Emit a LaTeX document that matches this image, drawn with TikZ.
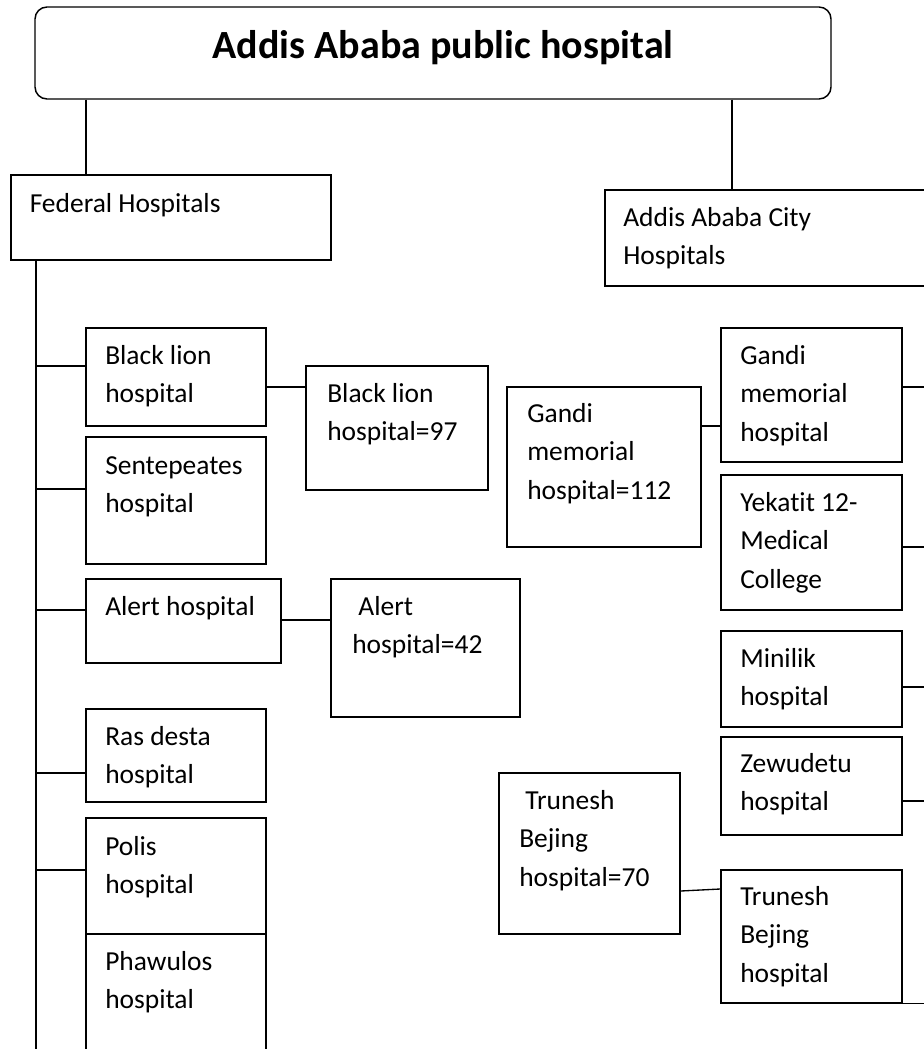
\documentclass[tikz,border=0pt]{standalone}
\usepackage{fontspec}
\setmainfont{Carlito}[Ligatures=NoCommon]
\usetikzlibrary{fit}
\begin{document}
\begin{tikzpicture}[x=0.75pt,y=-0.75pt,
  box/.style={draw, line width=1.1pt, inner sep=0pt},
  ln/.style={line width=1pt},
  txt/.style={anchor=north west, inner sep=0pt, align=left, font=\fontsize{20.6}{28.9}\selectfont},
  ttl/.style={inner sep=0pt, font=\bfseries\fontsize{30}{36}\selectfont}]
\clip (0,0) rectangle (924,1049);
% boxes
\node[box, rounded corners=9pt, fit={(35,7) (831,99)}] (title) {};
\node[box, fit={(11,175) (331,260)}] (fed) {};
\node[box, fit={(605,190) (945,286)}] (city) {};
\node[box, fit={(86,328) (266,426)}] (bl) {};
\node[box, fit={(306,366) (488,490)}] (bl97) {};
\node[box, fit={(86,437) (266,564)}] (sen) {};
\node[box, fit={(86,579) (281,663)}] (al) {};
\node[box, fit={(331,579) (520,717)}] (al42) {};
\node[box, fit={(507,387) (701,547)}] (g112) {};
\node[box, fit={(721,328) (902,462)}] (gh) {};
\node[box, fit={(721,475) (902,610)}] (yk) {};
\node[box, fit={(721,631) (902,727)}] (mn) {};
\node[box, fit={(721,737) (902,835)}] (zw) {};
\node[box, fit={(721,870) (902,1003)}] (trh) {};
\node[box, fit={(499,773) (680,934)}] (tr70) {};
\node[box, fit={(86,709) (266,802)}] (rd) {};
\node[box, fit={(86,818) (266,934)}] (pol) {};
\node[box, fit={(86,934) (266,1070)}] (pha) {};
% texts
\node[ttl] (titlet) at (443,48) {Addis Ababa public hospital};
\node[txt] (fedt) at (29.5,185) {\strut Federal Hospitals};
\node[txt] (cityt) at (623,199) {\strut Addis Ababa City\\\strut Hospitals};
\node[txt] (blt) at (105,337) {\strut Black lion\\\strut hospital};
\node[txt] (bl97t) at (327,375) {\strut Black lion\\\strut hospital=97};
\node[txt] (sent) at (105,447) {\strut Sentepeates\\\strut hospital};
\node[txt] (alt) at (105,588) {\strut Alert hospital};
\node[txt] (al42t) at (352,588) {\strut\ Alert\\\strut hospital=42};
\node[txt] (g112t) at (527,395) {\strut Gandi\\\strut memorial\\\strut hospital=112};
\node[txt] (ght) at (740,337) {\strut Gandi\\\strut memorial\\\strut hospital};
\node[txt] (ykt) at (740,484) {\strut Yekatit 12-\\\strut Medical\\\strut College};
\node[txt] (mnt) at (740,640) {\strut Minilik\\\strut hospital};
\node[txt] (zwt) at (740,745) {\strut Zewudetu\\\strut hospital};
\node[txt] (trht) at (740,878) {\strut Trunesh\\\strut Bejing\\\strut hospital};
\node[txt] (tr70t) at (519,782) {\strut\ Trunesh\\\strut Bejing\\\strut hospital=70};
\node[txt] (rdt) at (105,718) {\strut Ras desta\\\strut hospital};
\node[txt] (polt) at (105,828) {\strut Polis\\\strut hospital};
\node[txt] (phat) at (105,943) {\strut Phawulos\\\strut hospital};
% connectors
\coordinate (trunkend) at (36,1070);
\coordinate (cityend) at (940,0);
\draw[ln] (title.south -| 86,0) -- (fed.north -| 86,0);
\draw[ln] (title.south -| 732,0) -- (city.north -| 732,0);
\draw[ln] (fed.south -| trunkend) -- (trunkend);
\draw[ln] (trunkend |- 0,366) -- (bl.west |- 0,366);
\draw[ln] (trunkend |- 0,489) -- (sen.west |- 0,489);
\draw[ln] (trunkend |- 0,610) -- (al.west |- 0,610);
\draw[ln] (trunkend |- 0,773) -- (rd.west |- 0,773);
\draw[ln] (trunkend |- 0,870) -- (pol.west |- 0,870);
\draw[ln] (bl.east |- 0,387) -- (bl97.west |- 0,387);
\draw[ln] (al.east |- 0,620) -- (al42.west |- 0,620);
\draw[ln] (g112.east |- 0,426) -- (gh.west |- 0,426);
\draw[ln] (gh.east |- 0,387) -- (cityend |- 0,387);
\draw[ln] (yk.east |- 0,547) -- (cityend |- 0,547);
\draw[ln] (mn.east |- 0,687) -- (cityend |- 0,687);
\draw[ln] (zw.east |- 0,801) -- (cityend |- 0,801);
\draw[ln] (trh.south east) -- (cityend |- trh.south east);
\draw[ln] (tr70.east |- 0,891) -- (trh.west |- 0,889);
\end{tikzpicture}
\end{document}
